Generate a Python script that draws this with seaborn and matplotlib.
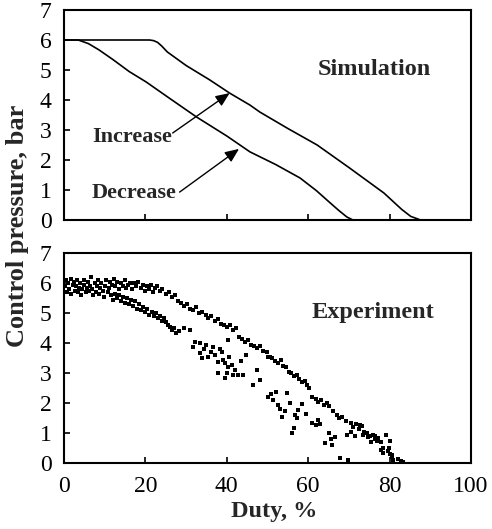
import matplotlib
matplotlib.use("Agg")
import matplotlib.pyplot as plt
import seaborn as sns
import pandas as pd

# ---- Simulation curves ----
inc_duty = [0, 10, 21, 22, 23, 24, 25.4, 30, 35.8, 40.7, 45.7, 48.1, 55, 62.2, 70, 78.6, 81, 83, 85.2, 87.6]
inc_pres = [6.0, 6.0, 6.0, 5.98, 5.92, 5.8, 5.6, 5.15, 4.67, 4.23, 3.83, 3.6, 3.05, 2.5, 1.75, 0.9, 0.6, 0.35, 0.12, 0.0]
dec_duty = [0, 3.5, 6, 8.6, 12, 16, 20.2, 26, 32.6, 40, 45.7, 52, 58, 62, 65.4, 67.5, 69.5, 71]
dec_pres = [6.0, 6.0, 5.88, 5.67, 5.35, 4.95, 4.6, 4.05, 3.43, 2.8, 2.27, 1.85, 1.4, 0.98, 0.57, 0.32, 0.1, 0.0]

exp_duty = [
    0.3, 0.5, 0.8, 1.0, 1.3, 1.6, 1.8, 2.1, 2.4, 2.6, 2.9, 3.2, 3.4, 3.7, 4.0, 4.2, 4.5, 4.8, 5.0, 5.3,
    5.6, 5.9, 6.1, 6.4, 6.7, 7.0, 7.2, 7.5, 7.8, 8.1, 8.3, 8.6, 8.9, 9.2, 9.5, 9.8, 10.1, 10.4, 10.7, 11.0,
    11.3, 11.8, 12.2, 12.6, 13.0, 13.5, 14.0, 14.4, 14.9, 15.3, 15.8, 16.2, 16.8, 17.3, 17.8, 18.3, 18.8, 19.3, 19.8, 20.3,
    20.8, 21.3, 21.8, 22.3,
    11.5, 12.0, 12.5, 13.0, 13.5, 14.0, 14.5, 15.0, 15.5, 16.0, 16.5, 17.0, 17.5, 18.0, 18.5, 19.0, 19.5, 20.0, 20.5, 21.0,
    21.5, 22.0, 22.5, 23.0, 23.5, 24.0, 24.5, 25.0, 25.5, 26.0, 26.5, 27.0, 27.5, 28.3, 29.5, 31.0,
    22.8, 23.5, 24.2, 25.0, 25.8, 26.5, 27.2, 28.0, 28.7, 29.5, 30.2, 31.0, 31.8, 32.5, 33.2, 34.0, 34.8, 35.5, 36.2, 37.0,
    37.8, 38.5, 39.3, 40.0, 40.8, 41.5, 42.3, 43.0, 43.8, 44.5, 45.3, 46.0, 46.8, 47.5, 48.2, 49.0, 49.8, 50.5,
    51.2, 51.8, 52.5, 53.2, 53.8, 54.5, 55.2, 55.8, 56.5, 57.2, 57.8, 58.5, 59.2, 59.8, 60.3, 61.0, 61.8, 62.5, 63.2, 63.8,
    64.5, 65.2, 66.0, 67.0, 67.6, 68.3, 69.2, 70.4, 71.0, 71.8, 72.5, 73.2, 73.8, 74.5, 75.2, 75.8, 76.5, 77.2, 77.8, 78.5,
    79.0, 79.5, 80.0, 80.2, 80.5, 80.8, 82.0, 82.7, 83.2,
    31.6, 32.2, 33.3, 33.3, 33.8, 34.3, 35.0, 35.3, 36.0, 36.5, 37.0, 37.8, 37.8, 38.3, 38.8, 39.0, 39.5, 39.5, 40.0, 40.2,
    40.2, 40.6, 41.2, 41.5, 42.0, 42.7, 43.5, 44.0, 44.7, 46.4, 47.4, 48.1, 50.0, 50.0,
    50.8, 51.4, 52.0, 52.5, 53.0, 53.6, 54.3, 54.8, 55.5, 56.0, 56.5, 56.8, 57.5, 57.2, 58.5, 59.5, 61.0, 61.8, 62.5, 63.0,
    64.2, 65.0, 65.5, 65.9, 66.7, 67.9, 69.6, 69.9, 70.5, 71.5, 72.8, 73.5, 74.8, 75.5, 76.3, 77.0, 77.8, 78.5, 79.8, 80.7,
]
exp_pres = [
    5.9, 6.1, 5.7, 6.0, 5.8, 6.15, 5.65, 5.95, 6.05, 5.75, 5.9, 6.1, 5.7, 5.85, 6.0, 5.6, 5.8, 6.1, 5.95, 5.7,
    5.85, 6.05, 5.75, 5.9, 6.2, 5.8, 5.6, 6.0, 5.7, 5.9, 6.1, 5.65, 5.85, 6.0, 5.75, 5.55, 5.9, 6.1, 5.7, 5.85,
    6.05, 5.95, 6.15, 5.9, 6.05, 5.8, 6.0, 5.9, 6.1, 5.85, 5.95, 6.0, 5.8, 6.0, 5.9, 6.05, 5.85, 5.95, 5.75, 5.9,
    5.8, 5.95, 5.7, 5.85,
    5.6, 5.45, 5.65, 5.5, 5.6, 5.4, 5.55, 5.35, 5.5, 5.3, 5.45, 5.25, 5.4, 5.15, 5.3, 5.1, 5.2, 5.05, 5.15, 4.95,
    5.05, 4.9, 5.0, 4.85, 4.9, 4.75, 4.85, 4.7, 4.6, 4.55, 4.45, 4.5, 4.35, 4.4, 4.5, 4.45,
    5.9, 5.75, 5.8, 5.65, 5.7, 5.55, 5.6, 5.4, 5.35, 5.25, 5.3, 5.15, 5.1, 5.2, 5.0, 5.05, 4.95, 4.85, 4.9, 4.75,
    4.8, 4.65, 4.6, 4.55, 4.6, 4.45, 4.5, 4.2, 4.15, 4.05, 4.1, 3.95, 3.9, 3.85, 3.9, 3.75, 3.7, 3.55,
    3.5, 3.4, 3.35, 3.45, 3.25, 3.2, 3.05, 3.0, 2.9, 2.95, 2.8, 2.7, 2.75, 2.6, 2.5, 2.2, 2.15, 2.05, 2.1, 1.95,
    2.0, 1.9, 1.75, 1.6, 1.5, 1.55, 1.4, 1.35, 1.2, 1.3, 1.15, 1.25, 1.05, 1.0, 0.9, 0.95, 0.8, 0.85, 0.7, 0.5,
    0.93, 0.4, 0.3, 0.75, 0.2, 0.1, 0.15, 0.08, 0.05,
    3.87, 4.05, 4.0, 3.67, 3.5, 3.8, 3.93, 3.53, 3.7, 3.87, 3.6, 3.37, 3.0, 3.8, 3.7, 3.45, 3.33, 2.83, 3.0, 4.1,
    3.2, 3.55, 3.27, 2.95, 3.1, 2.93, 3.4, 2.93, 3.6, 2.6, 3.1, 2.77, 3.53, 2.2,
    2.3, 2.1, 2.37, 1.95, 1.8, 1.53, 1.75, 2.33, 2.0, 1.0, 1.17, 1.6, 1.77, 1.5, 1.97, 1.65, 1.35, 1.27, 1.43, 1.3,
    0.67, 1.0, 0.8, 0.6, 0.87, 0.17, 0.95, 0.1, 1.05, 0.9, 1.27, 0.95, 0.87, 0.7, 0.9, 0.75, 0.45, 0.35, 0.5, 0.27,
]

x_ticks = [0, 20, 40, 60, 80, 100]
y_ticks = [0, 1, 2, 3, 4, 5, 6, 7]

sns.set_theme(style="white")
plt.rcParams["font.family"] = ["Liberation Serif", "DejaVu Serif"]

fig = plt.figure(figsize=(4.92, 5.29), dpi=100)
L, R = 64 / 492, 471 / 492
ax1 = fig.add_axes([L, 1 - 220 / 529, R - L, 210 / 529])
ax2 = fig.add_axes([L, 1 - 463 / 529, R - L, 210 / 529])

sim = pd.DataFrame({"duty": inc_duty + dec_duty,
                    "pres": inc_pres + dec_pres,
                    "mode": ["Increase"] * len(inc_duty) + ["Decrease"] * len(dec_duty)})
sns.lineplot(data=sim, x="duty", y="pres", units="mode", estimator=None, sort=False,
             color="black", lw=1.2, ax=ax1, legend=False)

exp = pd.DataFrame({"duty": exp_duty, "pres": exp_pres})
sns.scatterplot(data=exp, x="duty", y="pres", color="black", marker="s", s=5.5,
                linewidth=0, ax=ax2, legend=False)

for ax in (ax1, ax2):
    ax.set_xlim(0, 100)
    ax.set_ylim(0, 7)
    ax.set_xticks(x_ticks)
    ax.set_yticks(y_ticks)
    ax.set_xlabel("")
    ax.set_ylabel("")
    for s in ax.spines.values():
        s.set_visible(True)
        s.set_color("black")
        s.set_linewidth(1.5)
    ax.tick_params(axis="both", direction="in", length=4, width=1.2, color="black",
                   labelsize=17, labelcolor="black", bottom=True, left=True,
                   top=False, right=False)
    ax.tick_params(axis="y", pad=9)
    ax.tick_params(axis="x", pad=9)
    ax.set_facecolor("white")
    ax.grid(False)

ax1.tick_params(axis="x", labelbottom=False)

ax1.text(0.624, 0.719, "Simulation", transform=ax1.transAxes, ha="left", va="center",
         fontsize=17.5, fontweight="bold")
ax2.text(0.609, 0.719, "Experiment", transform=ax2.transAxes, ha="left", va="center",
         fontsize=17.5, fontweight="bold")

ax1.text(6.9, 2.77, "Increase", ha="left", va="center", fontsize=16, fontweight="bold")
ax1.text(6.9, 0.9, "Decrease", ha="left", va="center", fontsize=16, fontweight="bold")
arrow = dict(arrowstyle="-|>,head_length=0.7,head_width=0.3", color="black", lw=1.0,
             shrinkA=0, shrinkB=0)
ax1.annotate("", xy=(40.7, 4.23), xytext=(26.7, 2.9), arrowprops=arrow)
ax1.annotate("", xy=(43.0, 2.37), xytext=(28.4, 0.93), arrowprops=arrow)

fig.text(18 / 492, 1 - 226 / 529, "Control pressure, bar", rotation=90, ha="center",
         va="center", fontsize=19, fontweight="bold")
fig.text(274 / 492, 1 - 512 / 529, "Duty, %", ha="center", va="center",
         fontsize=17.5, fontweight="bold")

fig.savefig("out.png", dpi=100, facecolor="white")
